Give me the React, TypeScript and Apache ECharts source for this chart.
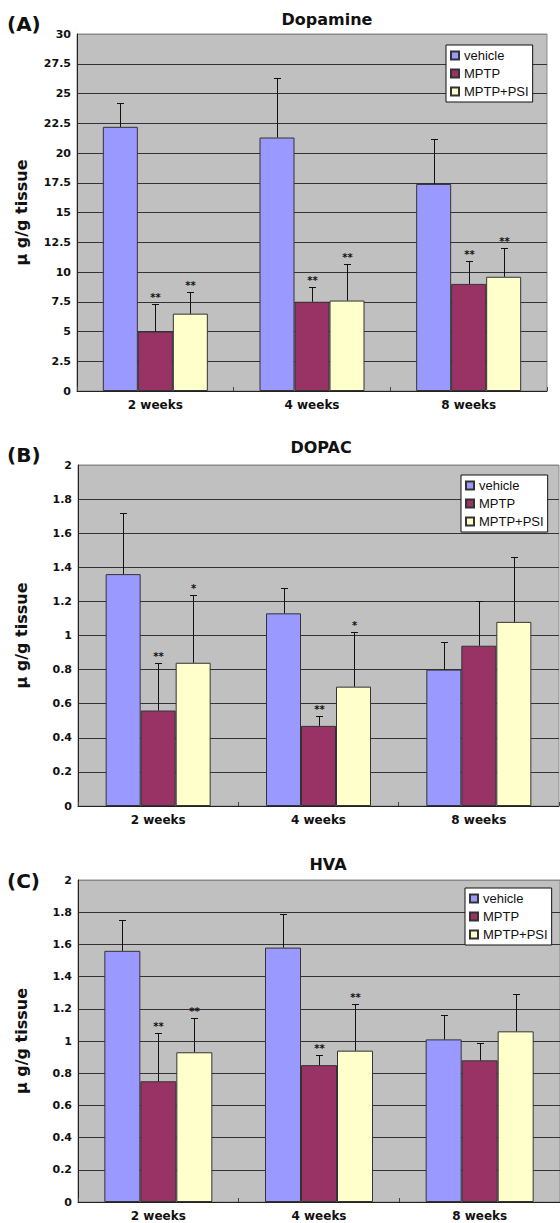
import React, { useEffect, useRef } from 'react';
import * as echarts from 'echarts';

const categories = ['2 weeks', '4 weeks', '8 weeks'];
const groupNames = ['vehicle', 'MPTP', 'MPTP+PSI'];

// Dopamine (panel A)
const dopVehicle = [22.2, 21.3, 17.4];
const dopVehicleSD = [2.0, 5.0, 3.8];
const dopMPTP = [5.0, 7.5, 9.0];
const dopMPTPSD = [2.3, 1.2, 1.9];
const dopPSI = [6.5, 7.6, 9.6];
const dopPSISD = [1.8, 3.1, 2.4];
const dopMPTPStars = ['**', '**', '**'];
const dopPSIStars = ['**', '**', '**'];

// DOPAC (panel B)
const dopacVehicle = [1.36, 1.13, 0.8];
const dopacVehicleSD = [0.36, 0.15, 0.16];
const dopacMPTP = [0.56, 0.47, 0.94];
const dopacMPTPSD = [0.28, 0.06, 0.26];
const dopacPSI = [0.84, 0.7, 1.08];
const dopacPSISD = [0.4, 0.32, 0.38];
const dopacMPTPStars = ['**', '**', ''];
const dopacPSIStars = ['*', '*', ''];

// HVA (panel C)
const hvaVehicle = [1.56, 1.58, 1.01];
const hvaVehicleSD = [0.19, 0.21, 0.15];
const hvaMPTP = [0.75, 0.85, 0.88];
const hvaMPTPSD = [0.3, 0.06, 0.11];
const hvaPSI = [0.93, 0.94, 1.06];
const hvaPSISD = [0.21, 0.29, 0.23];
const hvaMPTPStars = ['**', '**', ''];
const hvaPSIStars = ['**', '**', ''];

const noStars = ['', '', ''];

const COLORS = ['#9999FF', '#993366', '#FFFFCC'];
const FONT = 'DejaVu Sans';

type Panel = {
  label: string;
  title: string;
  titleX: number;
  titleY: number;
  labelY: number;
  grid: { left: number; top: number; width: number; height: number };
  yMax: number;
  yInterval: number;
  means: number[][];
  sds: number[][];
  stars: string[][];
  legend: { left: number; top: number };
  barWidth: number;
};

const panels: Panel[] = [
  {
    label: '(A)',
    title: 'Dopamine',
    titleX: 327,
    titleY: 19,
    labelY: 24,
    grid: { left: 77, top: 34, width: 470, height: 357 },
    yMax: 30,
    yInterval: 2.5,
    means: [dopVehicle, dopMPTP, dopPSI],
    sds: [dopVehicleSD, dopMPTPSD, dopPSISD],
    stars: [noStars, dopMPTPStars, dopPSIStars],
    legend: { left: 446, top: 45 },
    barWidth: 35,
  },
  {
    label: '(B)',
    title: 'DOPAC',
    titleX: 321,
    titleY: 447,
    labelY: 455,
    grid: { left: 78, top: 465, width: 481, height: 341 },
    yMax: 2,
    yInterval: 0.2,
    means: [dopacVehicle, dopacMPTP, dopacPSI],
    sds: [dopacVehicleSD, dopacMPTPSD, dopacPSISD],
    stars: [noStars, dopacMPTPStars, dopacPSIStars],
    legend: { left: 461, top: 475 },
    barWidth: 35,
  },
  {
    label: '(C)',
    title: 'HVA',
    titleX: 328,
    titleY: 864,
    labelY: 881,
    grid: { left: 78, top: 880, width: 482, height: 322 },
    yMax: 2,
    yInterval: 0.2,
    means: [hvaVehicle, hvaMPTP, hvaPSI],
    sds: [hvaVehicleSD, hvaMPTPSD, hvaPSISD],
    stars: [noStars, hvaMPTPStars, hvaPSIStars],
    legend: { left: 465, top: 888 },
    barWidth: 36,
  },
];

function buildOption(): any {
  const grid = panels.map((p) => ({
    left: p.grid.left,
    top: p.grid.top,
    width: p.grid.width,
    height: p.grid.height,
    show: true,
    backgroundColor: '#C0C0C0',
    borderColor: '#8a8a8a',
    borderWidth: 1,
  }));

  const xAxis = panels.map((p, i) => ({
    type: 'category',
    gridIndex: i,
    data: categories,
    axisLine: { show: true, lineStyle: { color: '#222', width: 1 } },
    axisTick: { show: true, inside: true, length: 4, lineStyle: { color: '#444' } },
    axisLabel: {
      margin: 8,
      fontSize: 12,
      fontWeight: 'bold',
      fontFamily: FONT,
      color: '#111',
    },
    splitLine: { show: false },
  }));

  const yAxis = panels.map((p, i) => {
    const n = Math.round(p.yMax / p.yInterval);
    const colors = Array(n).fill('#333').concat(['#8a8a8a']);
    return {
      type: 'value',
      gridIndex: i,
      min: 0,
      max: p.yMax,
      interval: p.yInterval,
      axisLine: { show: true, lineStyle: { color: '#222', width: 1 } },
      axisTick: { show: false },
      axisLabel: {
        margin: 6,
        fontSize: 11,
        fontWeight: 'bold',
        fontFamily: FONT,
        color: '#111',
      },
      splitLine: { show: true, lineStyle: { color: colors, width: 1 } },
    };
  });

  const series: any[] = [];
  panels.forEach((p, i) => {
    p.means.forEach((vals, g) => {
      series.push({
        type: 'bar',
        name: groupNames[g],
        xAxisIndex: i,
        yAxisIndex: i,
        data: vals,
        barWidth: p.barWidth,
        barGap: '0%',
        itemStyle: { color: COLORS[g], borderColor: '#333', borderWidth: 1 },
        z: 2,
      });
    });
    p.means.forEach((vals, g) => {
      const sd = p.sds[g];
      const st = p.stars[g];
      const bw = p.barWidth;
      series.push({
        type: 'custom',
        xAxisIndex: i,
        yAxisIndex: i,
        z: 5,
        silent: true,
        encode: { x: 0, y: 2 },
        data: vals.map((m, k) => [k, m, m + sd[k]]),
        renderItem: (params: any, api: any) => {
          const k = api.value(0);
          const m = api.value(1);
          const t = api.value(2);
          const base = api.coord([k, m]);
          const top = api.coord([k, t]);
          const x = Math.round(base[0] + (g - 1) * bw) + 0.5;
          const ty = Math.round(top[1]) + 0.5;
          const children: any[] = [
            {
              type: 'line',
              shape: { x1: x, y1: base[1], x2: x, y2: ty },
              style: { stroke: '#111', lineWidth: 1 },
            },
            {
              type: 'line',
              shape: { x1: x - 3.5, y1: ty, x2: x + 3.5, y2: ty },
              style: { stroke: '#111', lineWidth: 1 },
            },
          ];
          const s = st[params.dataIndex];
          if (s) {
            children.push({
              type: 'text',
              x: x,
              y: ty - 7,
              style: {
                text: s,
                fontSize: 10,
                fontWeight: 'bold',
                fontFamily: FONT,
                fill: '#111',
                align: 'center',
                verticalAlign: 'middle',
              },
            });
          }
          return { type: 'group', children };
        },
      });
    });
  });

  const legend = panels.map((p) => ({
    data: groupNames,
    orient: 'vertical',
    left: p.legend.left,
    top: p.legend.top,
    backgroundColor: '#ffffff',
    borderColor: '#111',
    borderWidth: 1,
    padding: [4, 4, 4, 4],
    itemWidth: 8,
    itemHeight: 8,
    itemGap: 5,
    icon: 'rect',
    selectedMode: false,
    textStyle: { fontSize: 13, fontFamily: 'Liberation Sans', color: '#111' },
  }));

  const graphic: any[] = [];
  panels.forEach((p) => {
    graphic.push({
      type: 'text',
      x: 7,
      y: p.labelY,
      style: {
        text: p.label,
        fontSize: 20,
        fontWeight: 'bold',
        fontFamily: FONT,
        fill: '#111',
        align: 'left',
        verticalAlign: 'middle',
      },
    });
    graphic.push({
      type: 'text',
      x: p.titleX,
      y: p.titleY,
      style: {
        text: p.title,
        fontSize: 16,
        fontWeight: 'bold',
        fontFamily: FONT,
        fill: '#111',
        align: 'center',
        verticalAlign: 'middle',
      },
    });
    graphic.push({
      type: 'text',
      x: 21,
      y: p.grid.top + p.grid.height / 2,
      rotation: Math.PI / 2,
      style: {
        text: 'μ g/g tissue',
        fontSize: 16,
        fontWeight: 'bold',
        fontFamily: FONT,
        fill: '#111',
        align: 'center',
        verticalAlign: 'middle',
      },
    });
  });

  return {
    animation: false,
    backgroundColor: '#ffffff',
    grid,
    xAxis,
    yAxis,
    legend,
    series,
    graphic,
  };
}

export default function App() {
  const ref = useRef<HTMLDivElement>(null);
  useEffect(() => {
    if (!ref.current) return;
    const chart = echarts.init(ref.current, undefined, { renderer: 'svg' });
    chart.setOption(buildOption());
    return () => chart.dispose();
  }, []);
  return (
    <div
      ref={ref}
      style={{ position: 'absolute', left: 0, top: 0, width: 560, height: 1223 }}
    />
  );
}
